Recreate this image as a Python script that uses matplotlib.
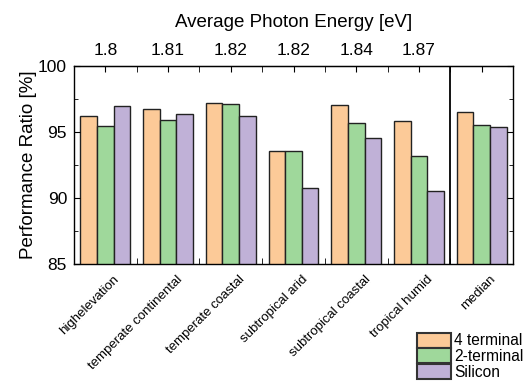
import matplotlib.pyplot as plt
from matplotlib.ticker import FixedLocator, NullFormatter
from matplotlib.patches import Patch
import matplotlib.transforms as mtrans
import numpy as np

plt.rcParams['font.family'] = ['Liberation Sans', 'DejaVu Sans']

climates = ["highelevation", "temperate continental", "temperate coastal", "subtropical arid",
            "subtropical coastal", "tropical humid", "median"]
photon_energy = ["1.8", "1.81", "1.82", "1.82", "1.84", "1.87"]
four_terminal = [96.17, 96.77, 97.20, 93.51, 97.07, 95.86, 96.47]
two_terminal = [95.43, 95.89, 97.15, 93.56, 95.66, 93.13, 95.53]
silicon = [96.95, 96.39, 96.24, 90.76, 94.52, 90.50, 95.38]
series_names = ["4 terminal", "2-terminal", "Silicon"]
colors = ['#FCCA98', '#9FD89B', '#C0B1D7']

fig = plt.figure(figsize=(5.3, 3.83), dpi=100)
ax = fig.add_axes([0.1396, 0.312, 0.8284, 0.5157])

x = np.arange(len(climates)) + 0.5
w = 0.265
for i, vals in enumerate([four_terminal, two_terminal, silicon]):
    ax.bar(x + (i - 1) * w, vals, w, color=colors[i], edgecolor='#222222', linewidth=1.0, zorder=1)

ax.axvline(6, color='black', lw=1.3, zorder=3)

ax.set_xlim(0, 7)
ax.set_ylim(85, 100)
ax.set_yticks([85, 90, 95, 100])
ax.yaxis.set_minor_locator(FixedLocator([87.5, 92.5, 97.5]))
ax.tick_params(axis='y', which='both', direction='in', right=True, labelsize=12.5, pad=5)
ax.tick_params(axis='y', which='major', length=4)
ax.tick_params(axis='y', which='minor', length=3)
ax.set_ylabel("Performance Ratio [%]", fontsize=13.5, labelpad=1)

# bottom: labels at group centres, ticks at the group boundaries
ax.set_xticks(x)
ax.set_xticklabels(climates, rotation=45, ha='right', va='top', rotation_mode='anchor', fontsize=9.5)
ax.xaxis.set_minor_locator(FixedLocator(np.arange(1, 7)))
ax.tick_params(axis='x', which='major', length=0, pad=7)
ax.tick_params(axis='x', which='minor', direction='in', length=4)
for lab in ax.get_xticklabels():
    lab.set_transform(lab.get_transform() + mtrans.ScaledTranslation(0.08, 0, fig.dpi_scale_trans))

# top axis: average photon energy
top = ax.secondary_xaxis('top')
top.set_xticks(x, photon_energy + [""])
top.xaxis.set_minor_locator(FixedLocator(np.arange(1, 7)))
top.xaxis.set_minor_formatter(NullFormatter())
top.tick_params(axis='x', which='both', direction='in', length=4, labelsize=12.5, pad=6)
top.set_xlabel("Average Photon Energy [eV]", fontsize=13.5, labelpad=11)

for sp in ax.spines.values():
    sp.set_linewidth(1.0)

handles = [Patch(facecolor=c, edgecolor='#333333', linewidth=1.5) for c in colors]
fig.legend(handles, series_names, loc='upper left', bbox_to_anchor=(0.787, 0.131),
           bbox_transform=fig.transFigure, frameon=False, fontsize=11.2, borderpad=0,
           borderaxespad=0, handlelength=2.2, handleheight=1.08, labelspacing=0.0,
           handletextpad=0.2)

fig.savefig("out.png", dpi=100)
